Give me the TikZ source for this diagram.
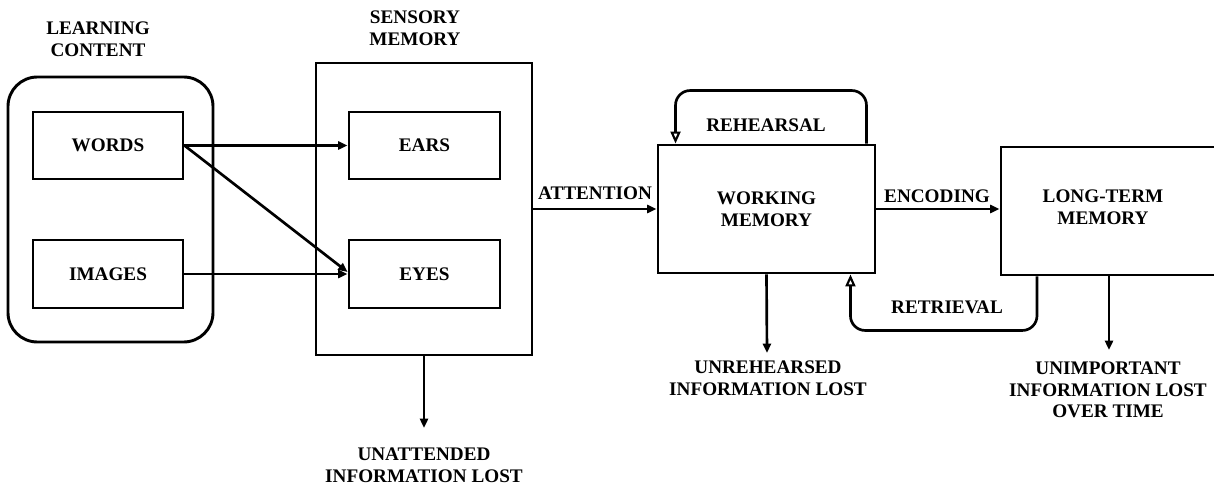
\documentclass[tikz,border=0pt]{standalone}
\usepackage{fontspec}
\setmainfont{Liberation Serif}
\usetikzlibrary{arrows.meta,calc}
\def\pxu{0.75pt}
\begin{document}
\begin{tikzpicture}[x=0.75pt,y=-0.75pt,
  every node/.style={font=\fontsize{14.4}{16.2}\selectfont\bfseries, align=center, inner sep=0pt},
  box/.style={draw, line width=2.2pt},
  flow/.style={line width=2pt, -{Triangle[length=7pt,width=6pt]}},
  loopback/.style={line width=2pt, rounded corners=11pt, -{Triangle[open,length=9pt,width=7.5pt,line width=1.6pt]}}]
\useasboundingbox (0,0) rectangle (1214,484);
\clip (0,0) rectangle (1214,484);

% learning content
\node[box, rounded corners=22pt, minimum width=205*\pxu, minimum height=265*\pxu] (lc) at (110.5,209.5) {};
\node (lclabel) at (98,39.5) {LEARNING\\CONTENT};
\node[box, minimum width=150*\pxu, minimum height=67*\pxu] (words) at (108,145.5) {WORDS};
\node[box, minimum width=150*\pxu, minimum height=68*\pxu] (images) at (108,274) {IMAGES};

% sensory memory
\node[box, minimum width=216*\pxu, minimum height=292*\pxu] (sm) at (424,209) {};
\node (smlabel) at (415,28) {SENSORY\\MEMORY};
\node[box, minimum width=151*\pxu, minimum height=67*\pxu] (ears) at (424.5,145.5) {EARS};
\node[box, minimum width=151*\pxu, minimum height=68*\pxu] (eyes) at (424.5,274) {EYES};

% working and long-term memory
\node[box, minimum width=217*\pxu, minimum height=128*\pxu] (wm) at (766.5,209) {WORKING\\MEMORY};
\node[box, minimum width=240*\pxu, minimum height=128*\pxu] (ltm) at (1121,211) {};
\node (ltmtext) at (1103,207) {LONG-TERM\\MEMORY};

% sensory input
\draw[flow] (words.east) -- (ears.west);
\draw[flow] (words.east) -- ([shift={(0,-2)}]eyes.west);
\draw[flow] (images.east) -- (eyes.west);

% main flow
\draw[flow] (sm.east) -- (wm.west);
\node (attn) at (595,193) {ATTENTION};
\draw[flow] (wm.east) -- (wm.east -| ltm.west);
\node (enc) at (937,196) {ENCODING};

% rehearsal and retrieval loops
\draw[loopback] ([shift={(-10,0)}]wm.north east) -- ++(0,-53) -| ([shift={(19,0)}]wm.north west);
\node (reh) at (766,125) {REHEARSAL};
\coordinate (retr) at (1037,0);
\draw[loopback] (retr |- ltm.south) -- ++(0,54) -| ([shift={(-26,0)}]wm.south east);
\node (ret) at (947,307) {RETRIEVAL};

% information lost
\coordinate (smlost) at (424,428);
\draw[flow] (sm.south) -- (smlost);
\node (smlosttext) at (424,465) {UNATTENDED\\INFORMATION LOST};

\coordinate (wmlost) at (767,353);
\draw[flow] (wm.south) -- (wmlost);
\node (wmlosttext) at (768,378.5) {UNREHEARSED\\INFORMATION LOST};

\coordinate (ltmlost) at (1109,350);
\draw[flow] (ltmlost |- ltm.south) -- (ltmlost);
\node (ltmlosttext) at (1108,390) {UNIMPORTANT\\INFORMATION LOST\\OVER TIME};
\end{tikzpicture}
\end{document}
